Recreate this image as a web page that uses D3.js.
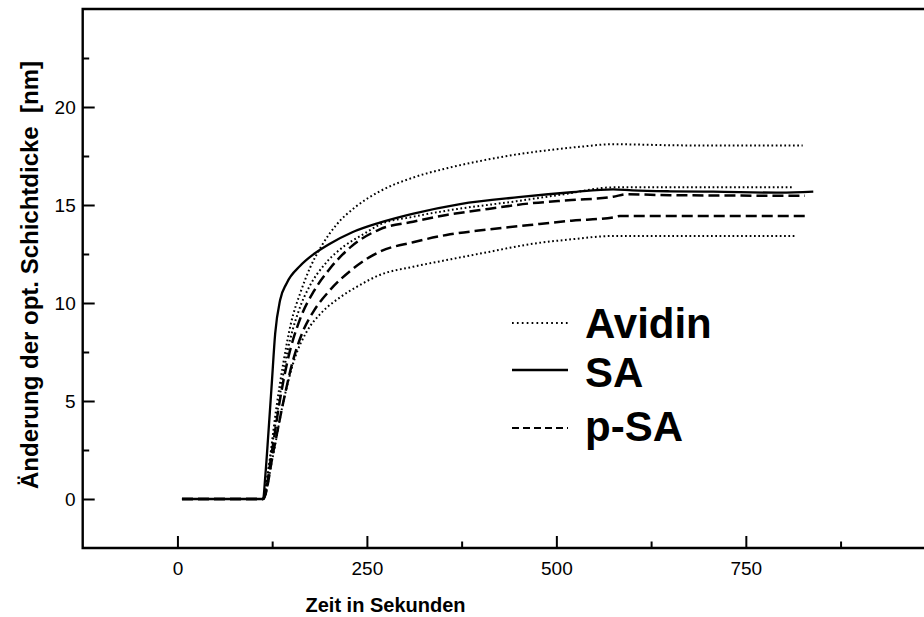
<!DOCTYPE html>
<html><head><meta charset="utf-8">
<script src="https://cdn.jsdelivr.net/npm/d3@7"></script>
<style>body{margin:0;background:#fff}svg{display:block}text{font-family:Arial,"Liberation Sans",sans-serif}</style>
</head><body><svg id="c" width="924" height="617"></svg>
<script>
// ---- data ----
const xTicksMajor = [0, 250, 500, 750];
const xTicksMinor = [125, 375, 625, 875];
const yTicksMajor = [0, 5, 10, 15, 20];
const yTicksMinor = [2.5, 7.5, 12.5, 17.5, 22.5];

const avidin1T = [6,113,120,130,140,150,162,175,190,210,235,267,311,355,400,443,490,531,575,650,707,825];
const avidin1V = [0,0,1.5,4.5,7,9,10.5,11.8,12.9,14.0,14.9,15.7,16.4,16.87,17.25,17.55,17.8,17.97,18.1,18.05,18.03,18.03];
const avidin2T = [6,113,122,132,145,160,175,195,220,245,267,311,370,443,510,575,650,812];
const avidin2V = [0,0,2,4.5,7.5,9.6,10.9,12.0,12.9,13.5,14.0,14.4,14.8,15.17,15.55,15.9,15.9,15.9];
const avidin3T = [6,113,125,140,155,170,190,215,240,267,311,355,410,465,520,575,816];
const avidin3V = [0,0,2,5,7.2,8.5,9.5,10.3,10.9,11.43,11.85,12.19,12.6,13.0,13.25,13.42,13.42];
const saT = [6,113,116,120,124.5,129,135.5,144,162,180,200,230,267,310,373,450,520,575,600,650,707,795,839];
const saV = [0,0,1.2,3.35,5.9,8.45,10.15,11.0,11.9,12.5,13.0,13.6,14.1,14.55,15.05,15.4,15.65,15.8,15.75,15.7,15.68,15.63,15.68];
const psa1T = [6,113,125,135,145,162,180,200,230,267,311,355,410,465,520,575,593,650,828];
const psa1V = [0,0,2.5,5,7,9.2,10.6,11.7,12.9,13.76,14.15,14.49,14.8,15.08,15.25,15.42,15.55,15.5,15.47];
const psa2T = [6,113,127,140,152,165,180,200,230,267,311,355,410,465,520,575,584,830];
const psa2V = [0,0,2.5,5,7,8.5,9.6,10.6,11.7,12.62,13.1,13.47,13.75,13.98,14.2,14.37,14.44,14.44];

const legendLabels = ["Avidin", "SA", "p-SA"];
const xTitle = "Zeit in Sekunden";
const yTitle = "Änderung der opt. Schichtdicke  [nm]";

// ---- chart ----
const svg = d3.select("#c");
const x = d3.scaleLinear().domain([-125, 1000]).range([82.7, 935.3]);
const y = d3.scaleLinear().domain([-2.5, 25]).range([548, 9]);

const styles = {
  dotted: {w: 2, dash: "1.7,2.6"},
  solid: {w: 2.3, dash: null},
  dashed: {w: 2.5, dash: "11,5"}
};
const series = [
  {t: avidin1T, v: avidin1V, s: "dotted"},
  {t: avidin2T, v: avidin2V, s: "dotted"},
  {t: avidin3T, v: avidin3V, s: "dotted"},
  {t: psa1T, v: psa1V, s: "dashed"},
  {t: psa2T, v: psa2V, s: "dashed"},
  {t: saT, v: saV, s: "solid"}
];
const line = d3.line().x(d => x(d[0])).y(d => y(d[1])).curve(d3.curveMonotoneX);
series.forEach(se => {
  const pts = se.t.map((t, i) => [t, se.v[i]]);
  const st = styles[se.s];
  svg.append("path").attr("d", line(pts)).attr("fill", "none")
    .attr("stroke", "#000").attr("stroke-width", st.w)
    .attr("stroke-dasharray", st.dash);
});

// frame
svg.append("path").attr("fill", "none").attr("stroke", "#000").attr("stroke-width", 2.4)
  .attr("d", `M${x(1000)},${y(25)}H${x(-125)}V${y(-2.5)}H${x(1000)}`);

// x axis ticks
const gx = svg.append("g").attr("transform", `translate(0,${y(-2.5)})`);
gx.call(d3.axisBottom(x).tickValues(xTicksMajor).tickSize(-12).tickPadding(14).tickFormat(d3.format("d")));
const gxm = svg.append("g").attr("transform", `translate(0,${y(-2.5)})`);
gxm.call(d3.axisBottom(x).tickValues(xTicksMinor).tickSize(-6.5).tickFormat(""));
// y axis ticks
const gy = svg.append("g").attr("transform", `translate(${x(-125)},0)`);
gy.call(d3.axisLeft(y).tickValues(yTicksMajor).tickSize(-12).tickPadding(7).tickFormat(d3.format("d")));
const gym = svg.append("g").attr("transform", `translate(${x(-125)},0)`);
gym.call(d3.axisLeft(y).tickValues(yTicksMinor).tickSize(-6.5).tickFormat(""));
svg.selectAll(".domain").remove();
svg.selectAll(".tick line").attr("stroke", "#000").attr("stroke-width", 2);
svg.selectAll(".tick text").attr("font-size", 19).attr("fill", "#000")
  .attr("font-family", "Arial, 'Liberation Sans', sans-serif");

// titles
svg.append("text").attr("x", 385.5).attr("y", 612).attr("text-anchor", "middle")
  .attr("font-size", 20).attr("font-weight", "bold").text(xTitle);
svg.append("text").attr("transform", "translate(38,275) rotate(-90)").attr("text-anchor", "middle")
  .attr("font-size", 24).attr("font-weight", "bold").style("white-space", "pre").text(yTitle);

// legend
const legY = [323, 370, 428];
const legBase = [338, 387, 441];
const legDash = ["1.7,3.2", null, "7,4"];
legendLabels.forEach((lab, i) => {
  svg.append("line").attr("x1", 512).attr("x2", 568).attr("y1", legY[i]).attr("y2", legY[i])
    .attr("stroke", "#000").attr("stroke-width", i === 1 ? 2.3 : 2).attr("stroke-dasharray", legDash[i]);
  svg.append("text").attr("x", 585).attr("y", legBase[i]).attr("font-size", 42)
    .attr("font-weight", "bold").text(lab);
});
</script></body></html>
